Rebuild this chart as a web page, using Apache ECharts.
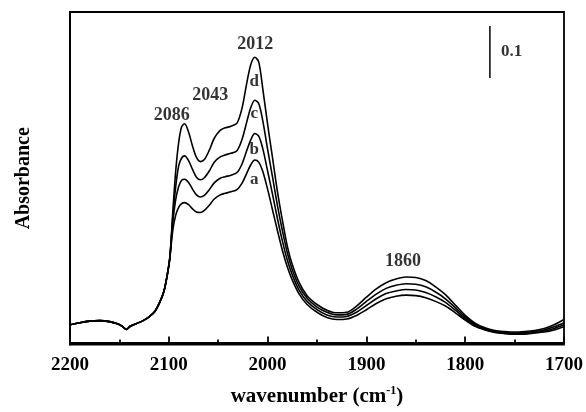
<!DOCTYPE html>
<html>
<head>
<meta charset="utf-8">
<script src="https://cdn.jsdelivr.net/npm/echarts@6/dist/echarts.min.js"></script>
<style>
  html, body { margin: 0; padding: 0; background: #fff; }
  #chart { width: 586px; height: 412px; }
</style>
</head>
<body>
<div id="chart"></div>
<script>
// wavenumbers (cm-1), shared by all four spectra
var wavenumbers = [2200, 2190, 2180, 2170, 2160, 2152, 2147, 2143, 2139, 2133, 2126, 2120, 2114, 2109, 2105, 2102, 2099,
  2096, 2093, 2090, 2087, 2084, 2080, 2076, 2072, 2068, 2064, 2059, 2054, 2048, 2043, 2037, 2031, 2026, 2021, 2017, 2013,
  2009, 2005, 2000, 1995, 1990, 1985, 1980, 1975, 1968, 1960, 1950, 1940, 1930, 1920, 1910, 1900, 1890, 1880, 1870, 1860,
  1850, 1840, 1830, 1820, 1810, 1800, 1790, 1780, 1770, 1760, 1750, 1740, 1730, 1720, 1710, 1700];

// common baseline 2200 -> 2099
var baseline = [0.034, 0.038, 0.041, 0.042, 0.040, 0.036, 0.031, 0.025, 0.031, 0.036, 0.042, 0.049, 0.060, 0.078, 0.098, 0.125, 0.162];

// 2096 -> 1700 for each spectrum
var bandA = [0.215, 0.245, 0.26, 0.267, 0.269, 0.265, 0.257, 0.251, 0.25, 0.254, 0.264, 0.276, 0.284, 0.287, 0.29, 0.294,
  0.306, 0.326, 0.342, 0.351, 0.347, 0.33, 0.295, 0.255, 0.215, 0.177, 0.145, 0.12, 0.093, 0.073, 0.058, 0.048, 0.044, 0.045,
  0.052, 0.063, 0.075, 0.084, 0.089, 0.091, 0.090, 0.086, 0.079, 0.070, 0.057, 0.043, 0.031, 0.024, 0.019, 0.017, 0.016,
  0.016, 0.018, 0.020, 0.024, 0.030];
var bandB = [0.23, 0.275, 0.30, 0.312, 0.314, 0.308, 0.295, 0.284, 0.28, 0.283, 0.294, 0.307, 0.316, 0.319, 0.322, 0.327,
  0.343, 0.37, 0.39, 0.402, 0.397, 0.374, 0.33, 0.285, 0.238, 0.195, 0.158, 0.13, 0.10, 0.079, 0.063, 0.053, 0.049, 0.050,
  0.058, 0.071, 0.084, 0.094, 0.099, 0.102, 0.101, 0.096, 0.088, 0.077, 0.062, 0.046, 0.033, 0.025, 0.020, 0.018, 0.017,
  0.017, 0.019, 0.022, 0.027, 0.034];
var bandC = [0.24, 0.30, 0.34, 0.355, 0.359, 0.35, 0.333, 0.318, 0.313, 0.317, 0.33, 0.347, 0.357, 0.361, 0.364, 0.369,
  0.39, 0.425, 0.452, 0.466, 0.46, 0.428, 0.372, 0.318, 0.263, 0.215, 0.172, 0.14, 0.108, 0.085, 0.068, 0.058, 0.053, 0.054,
  0.064, 0.079, 0.093, 0.104, 0.110, 0.113, 0.112, 0.107, 0.097, 0.084, 0.067, 0.049, 0.035, 0.026, 0.021, 0.019, 0.018,
  0.019, 0.021, 0.024, 0.030, 0.038];
var bandD = [0.25, 0.33, 0.385, 0.415, 0.421, 0.405, 0.378, 0.356, 0.348, 0.352, 0.37, 0.393, 0.408, 0.413, 0.416, 0.422,
  0.45, 0.50, 0.535, 0.549, 0.54, 0.49, 0.42, 0.355, 0.29, 0.235, 0.185, 0.15, 0.115, 0.09, 0.073, 0.062, 0.057, 0.058,
  0.07, 0.087, 0.103, 0.115, 0.122, 0.126, 0.125, 0.119, 0.107, 0.092, 0.072, 0.052, 0.037, 0.028, 0.023, 0.021, 0.020,
  0.021, 0.023, 0.027, 0.034, 0.044];

var spectra = [['a', bandA], ['b', bandB], ['c', bandC], ['d', bandD]];

// text annotations [text, wavenumber, absorbance]
var peakLabels = [['2086', 2097, 0.438], ['2043', 2058, 0.475], ['2012', 2012.5, 0.573], ['1860', 1863, 0.156]];
var curveLabels = [['d', 2013.5, 0.502], ['c', 2013.5, 0.441], ['b', 2013.5, 0.371], ['a', 2013.5, 0.313]];

// 0.1 absorbance scale bar
var scaleBarX = 1775;
var scaleBarBottom = 0.509;
var scaleBarSize = 0.1;

var serif = '"Liberation Serif", "Times New Roman", serif';

var option = {
  animation: false,
  backgroundColor: '#fff',
  grid: {
    left: 70,
    right: 20,
    top: 12,
    bottom: 61,
    show: true,
    borderColor: '#000',
    borderWidth: 1.8
  },
  xAxis: {
    type: 'value',
    inverse: true,
    min: 1700,
    max: 2200,
    interval: 100,
    name: '{t|wavenumber (cm}{s|-1}{t|)}',
    nameLocation: 'middle',
    nameGap: 40,
    nameTextStyle: {
      rich: {
        t: { fontFamily: serif, fontWeight: 'bold', fontSize: 21, color: '#000' },
        s: { fontFamily: serif, fontWeight: 'bold', fontSize: 12, color: '#000', verticalAlign: 'top', padding: [0, 0, 12, 0] }
      }
    },
    axisLine: { lineStyle: { color: '#000', width: 1.8 } },
    axisTick: { inside: true, length: 6, lineStyle: { color: '#000', width: 1.8 } },
    minorTick: { show: true, splitNumber: 2, length: 3, lineStyle: { color: '#000', width: 1.8 } },
    axisLabel: {
      fontFamily: serif, fontWeight: 'bold', fontSize: 19, color: '#000', margin: 11,
      formatter: function (v) { return String(v); }
    },
    splitLine: { show: false }
  },
  yAxis: {
    type: 'value',
    min: -0.004,
    max: 0.636,
    name: 'Absorbance',
    nameLocation: 'middle',
    nameGap: 36,
    nameTextStyle: { fontFamily: serif, fontWeight: 'bold', fontSize: 20, color: '#000' },
    axisLine: { lineStyle: { color: '#000', width: 1.8 } },
    axisTick: { show: false },
    axisLabel: { show: false },
    splitLine: { show: false }
  },
  series: []
};

spectra.forEach(function (s) {
  var ys = baseline.concat(s[1]);
  option.series.push({
    name: s[0],
    type: 'line',
    smooth: 0.3,
    symbol: 'none',
    lineStyle: { color: '#000', width: 1.6 },
    data: wavenumbers.map(function (w, i) { return [w, ys[i]]; })
  });
});

option.series.push({
  type: 'line',
  symbol: 'none',
  lineStyle: { color: '#000', width: 1.5 },
  data: [[scaleBarX, scaleBarBottom], [scaleBarX, scaleBarBottom + scaleBarSize]]
});

function textSeries(items, size) {
  return {
    type: 'scatter',
    symbolSize: 0,
    silent: true,
    label: {
      show: true,
      position: 'inside',
      formatter: function (p) { return p.data[2]; },
      fontFamily: serif,
      fontWeight: 'bold',
      fontSize: size,
      color: '#000'
    },
    data: items.map(function (d) { return [d[1], d[2], d[0]]; })
  };
}

option.series.push(textSeries(peakLabels, 18));
option.series.push(textSeries(curveLabels, 17));
option.series.push(textSeries([['0.1', scaleBarX - 22, scaleBarBottom + scaleBarSize / 2]], 17));

var chart = echarts.init(document.getElementById('chart'));
chart.setOption(option);
</script>
</body>
</html>
